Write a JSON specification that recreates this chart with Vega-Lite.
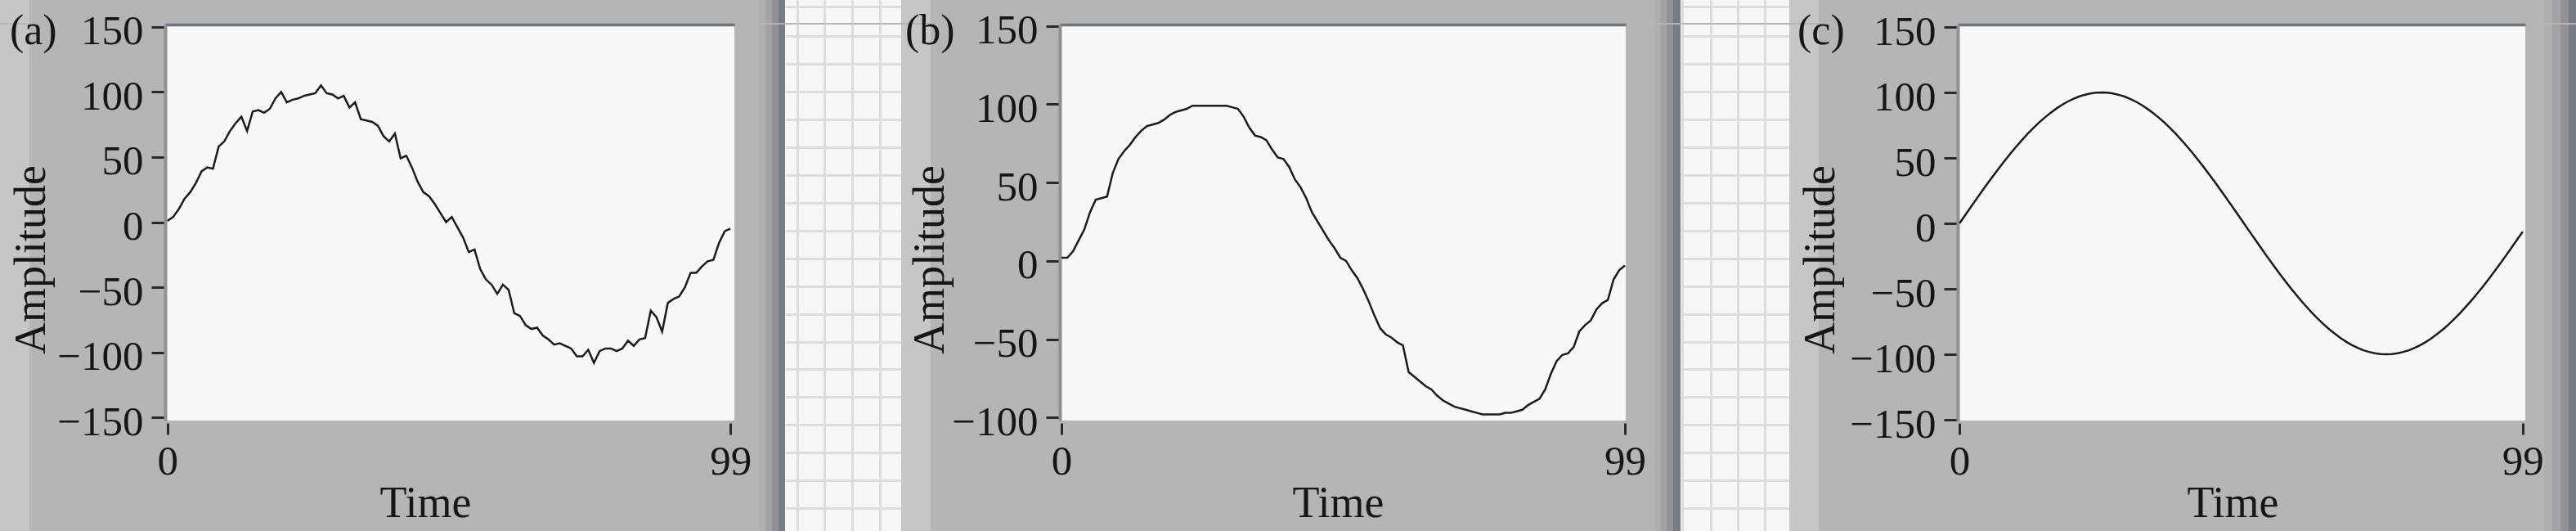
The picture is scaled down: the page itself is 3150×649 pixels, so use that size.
{
  "$schema": "https://vega.github.io/schema/vega-lite/v6.json",
  "padding": 0,
  "background": "#b5b5b5",
  "config": {"view": {"stroke": null}, "axis": {"labelFont": "Liberation Serif", "titleFont": "Liberation Serif"}},
  "datasets": {
    "a": [{"t":0,"v":1},{"t":1,"v":4},{"t":2,"v":10},{"t":3,"v":18},{"t":4,"v":23},{"t":5,"v":30},{"t":6,"v":39},{"t":7,"v":42},{"t":8,"v":41},{"t":9,"v":58},{"t":10,"v":62},{"t":11,"v":70},{"t":12,"v":76},{"t":13,"v":81},{"t":14,"v":70},{"t":15,"v":85},{"t":16,"v":86},{"t":17,"v":84},{"t":18,"v":87},{"t":19,"v":95},{"t":20,"v":100},{"t":21,"v":92},{"t":22,"v":94},{"t":23,"v":95},{"t":24,"v":97},{"t":25,"v":98},{"t":26,"v":99},{"t":27,"v":105},{"t":28,"v":99},{"t":29,"v":98},{"t":30,"v":95},{"t":31,"v":97},{"t":32,"v":88},{"t":33,"v":92},{"t":34,"v":79},{"t":35,"v":78},{"t":36,"v":77},{"t":37,"v":74},{"t":38,"v":66},{"t":39,"v":62},{"t":40,"v":68},{"t":41,"v":49},{"t":42,"v":51},{"t":43,"v":42},{"t":44,"v":31},{"t":45,"v":23},{"t":46,"v":20},{"t":47,"v":14},{"t":48,"v":7},{"t":49,"v":0},{"t":50,"v":4},{"t":51,"v":-4},{"t":52,"v":-12},{"t":53,"v":-23},{"t":54,"v":-21},{"t":55,"v":-36},{"t":56,"v":-44},{"t":57,"v":-48},{"t":58,"v":-55},{"t":59,"v":-48},{"t":60,"v":-52},{"t":61,"v":-70},{"t":62,"v":-72},{"t":63,"v":-79},{"t":64,"v":-82},{"t":65,"v":-81},{"t":66,"v":-87},{"t":67,"v":-90},{"t":68,"v":-94},{"t":69,"v":-93},{"t":70,"v":-95},{"t":71,"v":-97},{"t":72,"v":-103},{"t":73,"v":-103},{"t":74,"v":-98},{"t":75,"v":-108},{"t":76,"v":-99},{"t":77,"v":-97},{"t":78,"v":-97},{"t":79,"v":-99},{"t":80,"v":-97},{"t":81,"v":-91},{"t":82,"v":-95},{"t":83,"v":-90},{"t":84,"v":-89},{"t":85,"v":-68},{"t":86,"v":-73},{"t":87,"v":-84},{"t":88,"v":-62},{"t":89,"v":-59},{"t":90,"v":-57},{"t":91,"v":-50},{"t":92,"v":-39},{"t":93,"v":-39},{"t":94,"v":-34},{"t":95,"v":-30},{"t":96,"v":-29},{"t":97,"v":-16},{"t":98,"v":-7},{"t":99,"v":-5}],
    "b": [{"t":0,"v":2},{"t":1,"v":2},{"t":2,"v":6},{"t":3,"v":13},{"t":4,"v":20},{"t":5,"v":31},{"t":6,"v":39},{"t":7,"v":40},{"t":8,"v":41},{"t":9,"v":56},{"t":10,"v":65},{"t":11,"v":70},{"t":12,"v":74},{"t":13,"v":79},{"t":14,"v":83},{"t":15,"v":86},{"t":16,"v":87},{"t":17,"v":88},{"t":18,"v":90},{"t":19,"v":93},{"t":20,"v":95},{"t":21,"v":96},{"t":22,"v":97},{"t":23,"v":99},{"t":24,"v":99},{"t":25,"v":99},{"t":26,"v":99},{"t":27,"v":99},{"t":28,"v":99},{"t":29,"v":99},{"t":30,"v":98},{"t":31,"v":97},{"t":32,"v":92},{"t":33,"v":85},{"t":34,"v":80},{"t":35,"v":79},{"t":36,"v":77},{"t":37,"v":71},{"t":38,"v":66},{"t":39,"v":65},{"t":40,"v":60},{"t":41,"v":52},{"t":42,"v":47},{"t":43,"v":40},{"t":44,"v":31},{"t":45,"v":25},{"t":46,"v":19},{"t":47,"v":13},{"t":48,"v":8},{"t":49,"v":2},{"t":50,"v":0},{"t":51,"v":-6},{"t":52,"v":-11},{"t":53,"v":-18},{"t":54,"v":-26},{"t":55,"v":-35},{"t":56,"v":-43},{"t":57,"v":-47},{"t":58,"v":-49},{"t":59,"v":-52},{"t":60,"v":-54},{"t":61,"v":-71},{"t":62,"v":-74},{"t":63,"v":-77},{"t":64,"v":-80},{"t":65,"v":-82},{"t":66,"v":-86},{"t":67,"v":-89},{"t":68,"v":-91},{"t":69,"v":-93},{"t":70,"v":-94},{"t":71,"v":-95},{"t":72,"v":-96},{"t":73,"v":-97},{"t":74,"v":-98},{"t":75,"v":-98},{"t":76,"v":-98},{"t":77,"v":-98},{"t":78,"v":-97},{"t":79,"v":-97},{"t":80,"v":-96},{"t":81,"v":-95},{"t":82,"v":-92},{"t":83,"v":-90},{"t":84,"v":-88},{"t":85,"v":-82},{"t":86,"v":-72},{"t":87,"v":-64},{"t":88,"v":-60},{"t":89,"v":-59},{"t":90,"v":-55},{"t":91,"v":-45},{"t":92,"v":-41},{"t":93,"v":-38},{"t":94,"v":-31},{"t":95,"v":-27},{"t":96,"v":-25},{"t":97,"v":-12},{"t":98,"v":-6},{"t":99,"v":-3}],
    "c": [{"t":0,"v":0},{"t":1,"v":6.3},{"t":2,"v":12.5},{"t":3,"v":18.7},{"t":4,"v":24.9},{"t":5,"v":30.9},{"t":6,"v":36.8},{"t":7,"v":42.6},{"t":8,"v":48.2},{"t":9,"v":53.6},{"t":10,"v":58.8},{"t":11,"v":63.7},{"t":12,"v":68.5},{"t":13,"v":72.9},{"t":14,"v":77.1},{"t":15,"v":80.9},{"t":16,"v":84.4},{"t":17,"v":87.6},{"t":18,"v":90.5},{"t":19,"v":93.0},{"t":20,"v":95.1},{"t":21,"v":96.9},{"t":22,"v":98.2},{"t":23,"v":99.2},{"t":24,"v":99.8},{"t":25,"v":100},{"t":26,"v":99.8},{"t":27,"v":99.2},{"t":28,"v":98.2},{"t":29,"v":96.9},{"t":30,"v":95.1},{"t":31,"v":93.0},{"t":32,"v":90.5},{"t":33,"v":87.6},{"t":34,"v":84.4},{"t":35,"v":80.9},{"t":36,"v":77.1},{"t":37,"v":72.9},{"t":38,"v":68.5},{"t":39,"v":63.7},{"t":40,"v":58.8},{"t":41,"v":53.6},{"t":42,"v":48.2},{"t":43,"v":42.6},{"t":44,"v":36.8},{"t":45,"v":30.9},{"t":46,"v":24.9},{"t":47,"v":18.7},{"t":48,"v":12.5},{"t":49,"v":6.3},{"t":50,"v":0},{"t":51,"v":-6.3},{"t":52,"v":-12.5},{"t":53,"v":-18.7},{"t":54,"v":-24.9},{"t":55,"v":-30.9},{"t":56,"v":-36.8},{"t":57,"v":-42.6},{"t":58,"v":-48.2},{"t":59,"v":-53.6},{"t":60,"v":-58.8},{"t":61,"v":-63.7},{"t":62,"v":-68.5},{"t":63,"v":-72.9},{"t":64,"v":-77.1},{"t":65,"v":-80.9},{"t":66,"v":-84.4},{"t":67,"v":-87.6},{"t":68,"v":-90.5},{"t":69,"v":-93.0},{"t":70,"v":-95.1},{"t":71,"v":-96.9},{"t":72,"v":-98.2},{"t":73,"v":-99.2},{"t":74,"v":-99.8},{"t":75,"v":-100},{"t":76,"v":-99.8},{"t":77,"v":-99.2},{"t":78,"v":-98.2},{"t":79,"v":-96.9},{"t":80,"v":-95.1},{"t":81,"v":-93.0},{"t":82,"v":-90.5},{"t":83,"v":-87.6},{"t":84,"v":-84.4},{"t":85,"v":-80.9},{"t":86,"v":-77.1},{"t":87,"v":-72.9},{"t":88,"v":-68.5},{"t":89,"v":-63.7},{"t":90,"v":-58.8},{"t":91,"v":-53.6},{"t":92,"v":-48.2},{"t":93,"v":-42.6},{"t":94,"v":-36.8},{"t":95,"v":-30.9},{"t":96,"v":-24.9},{"t":97,"v":-18.7},{"t":98,"v":-12.5},{"t":99,"v":-6.3}]
  },
  "spacing": -17,
  "bounds": "full",
  "vconcat": [
    {
      "spacing": 0, "bounds": "flush",
      "hconcat": [
        {"width": 36, "height": 28, "view": {"fill": "#c6c6c6"}, "data": {"values": []}, "mark": "point"},
        {"width": 892, "height": 28, "data": {"values": []}, "mark": "point"},
        {"width": 8, "height": 28, "view": {"fill": "#aeafb1"}, "data": {"values": []}, "mark": "point"},
        {"width": 8, "height": 28, "view": {"fill": "#a2a3a7"}, "data": {"values": []}, "mark": "point"},
        {"width": 8, "height": 28, "view": {"fill": "#909297"}, "data": {"values": []}, "mark": "point"},
        {"width": 8, "height": 28, "view": {"fill": "#767a81"}, "data": {"values": []}, "mark": "point"},
        {
          "width": 142, "height": 28, "view": {"fill": "#f7f7f7"}, "data": {"values": []}, "mark": "point",
          "encoding": {
            "x": {"field": "gx", "type": "quantitative", "scale": {"domain": [0, 142]}, "axis": {"orient": "bottom", "values": [15, 48, 82, 116], "grid": true, "gridColor": "#dddddd", "gridWidth": 3, "gridOpacity": 1, "domain": false, "ticks": false, "labels": false, "title": null}},
            "y": {"field": "gy", "type": "quantitative", "scale": {"domain": [0, 28], "reverse": true}, "axis": {"orient": "left", "values": [8], "grid": true, "gridColor": "#dddddd", "gridWidth": 3, "gridOpacity": 1, "domain": false, "ticks": false, "labels": false, "title": null}}
          }
        },
        {"width": 36, "height": 28, "view": {"fill": "#c6c6c6"}, "data": {"values": []}, "mark": "point"},
        {"width": 884, "height": 28, "data": {"values": []}, "mark": "point"},
        {"width": 8, "height": 28, "view": {"fill": "#aeafb1"}, "data": {"values": []}, "mark": "point"},
        {"width": 8, "height": 28, "view": {"fill": "#a2a3a7"}, "data": {"values": []}, "mark": "point"},
        {"width": 8, "height": 28, "view": {"fill": "#909297"}, "data": {"values": []}, "mark": "point"},
        {"width": 9, "height": 28, "view": {"fill": "#767a81"}, "data": {"values": []}, "mark": "point"},
        {
          "width": 133, "height": 28, "view": {"fill": "#f7f7f7"}, "data": {"values": []}, "mark": "point",
          "encoding": {
            "x": {"field": "gx", "type": "quantitative", "scale": {"domain": [0, 133]}, "axis": {"orient": "bottom", "values": [2, 37, 70, 103], "grid": true, "gridColor": "#dddddd", "gridWidth": 3, "gridOpacity": 1, "domain": false, "ticks": false, "labels": false, "title": null}},
            "y": {"field": "gy", "type": "quantitative", "scale": {"domain": [0, 28], "reverse": true}, "axis": {"orient": "left", "values": [8], "grid": true, "gridColor": "#dddddd", "gridWidth": 3, "gridOpacity": 1, "domain": false, "ticks": false, "labels": false, "title": null}}
          }
        },
        {"width": 36, "height": 28, "view": {"fill": "#c6c6c6"}, "data": {"values": []}, "mark": "point"},
        {"width": 887, "height": 28, "data": {"values": []}, "mark": "point"},
        {"width": 10, "height": 28, "view": {"fill": "#aeafb1"}, "data": {"values": []}, "mark": "point"},
        {"width": 10, "height": 28, "view": {"fill": "#a2a3a7"}, "data": {"values": []}, "mark": "point"},
        {"width": 10, "height": 28, "view": {"fill": "#909297"}, "data": {"values": []}, "mark": "point"},
        {"width": 9, "height": 28, "view": {"fill": "#767a81"}, "data": {"values": []}, "mark": "point"}
      ]
    },
    {
      "spacing": 0, "bounds": "flush",
      "hconcat": [
        {"width": 36, "height": 621, "view": {"fill": "#c6c6c6"}, "data": {"values": []}, "mark": "point"},
        {"width": 166, "height": 621, "data": {"values": []}, "mark": "point"},
        {
          "width": 696, "height": 484,
          "view": {"fill": "#f8f8f8"},
          "data": {"name": "a"},
          "resolve": {"axis": {"x": "independent", "y": "independent"}},
          "layer": [
            {
              "mark": {"type": "line", "color": "#1c1c1c", "strokeWidth": 2.5},
              "encoding": {
                "x": {"field": "t", "type": "quantitative", "scale": {"domain": [-0.4, 99.7], "nice": false, "zero": false},
                  "axis": {"orient": "bottom", "values": [0, 99], "offset": 3, "domain": false, "grid": false, "tickSize": 14, "tickWidth": 3, "tickColor": "#2a2a2a", "labelFontSize": 51, "labelColor": "#161616", "labelPadding": 8, "labelFlush": false, "labelOverlap": false, "title": "Time", "titleFontSize": 54, "titleFontWeight": "normal", "titleColor": "#161616", "titleX": 318, "titleY": 114, "titleBaseline": "alphabetic"}},
                "y": {"field": "v", "type": "quantitative", "scale": {"domain": [-152.3, 151.7], "nice": false, "zero": false},
                  "axis": {"orient": "left", "values": [-150, -100, -50, 0, 50, 100, 150], "domain": true, "domainColor": "#8e9095", "domainWidth": 4, "grid": false, "tickSize": 17, "tickWidth": 3, "tickColor": "#2a2a2a", "labelFontSize": 51, "labelColor": "#161616", "labelPadding": 10, "labelOffset": 6, "labelBaseline": "middle", "labelOverlap": false, "labelFlush": false, "title": "Amplitude", "titleFontSize": 54, "titleFontWeight": "normal", "titleColor": "#161616", "titleAngle": 270, "titleX": -148, "titleY": 287, "titleBaseline": "alphabetic"}}
              }
            },
            {
              "mark": {"type": "line", "opacity": 0},
              "encoding": {
                "x": {"field": "t", "type": "quantitative", "axis": {"orient": "top", "domain": true, "domainColor": "#70747c", "domainWidth": 3.5, "domainCap": "butt", "ticks": false, "labels": false, "grid": false, "title": null}},
                "y": {"field": "v", "type": "quantitative", "axis": null}
              }
            },
            {
              "data": {"values": [{"label": "(a)"}]},
              "mark": {"type": "text", "align": "left", "baseline": "alphabetic", "font": "Liberation Serif", "fontSize": 52, "color": "#161616"},
              "encoding": {
                "x": {"datum": -27.73, "type": "quantitative", "axis": null},
                "y": {"datum": 136.6, "type": "quantitative", "axis": null},
                "text": {"field": "label"}
              }
            }
          ]
        },
        {"width": 30, "height": 621, "data": {"values": []}, "mark": "point"},
        {"width": 8, "height": 621, "view": {"fill": "#aeafb1"}, "data": {"values": []}, "mark": "point"},
        {"width": 8, "height": 621, "view": {"fill": "#a2a3a7"}, "data": {"values": []}, "mark": "point"},
        {"width": 8, "height": 621, "view": {"fill": "#909297"}, "data": {"values": []}, "mark": "point"},
        {"width": 8, "height": 621, "view": {"fill": "#767a81"}, "data": {"values": []}, "mark": "point"},
        {
          "width": 142, "height": 621, "view": {"fill": "#f7f7f7"}, "data": {"values": []}, "mark": "point",
          "encoding": {
            "x": {"field": "gx", "type": "quantitative", "scale": {"domain": [0, 142]}, "axis": {"orient": "bottom", "values": [15, 48, 82, 116], "grid": true, "gridColor": "#dddddd", "gridWidth": 3, "gridOpacity": 1, "domain": false, "ticks": false, "labels": false, "title": null}},
            "y": {"field": "gy", "type": "quantitative", "scale": {"domain": [28, 649], "reverse": true}, "axis": {"orient": "left", "values": [42, 76, 110, 144, 178, 212, 246, 280, 314, 348, 382, 416, 449, 483, 517, 551, 585, 619], "grid": true, "gridColor": "#dddddd", "gridWidth": 3, "gridOpacity": 1, "domain": false, "ticks": false, "labels": false, "title": null}}
          }
        },
        {"width": 36, "height": 621, "view": {"fill": "#c6c6c6"}, "data": {"values": []}, "mark": "point"},
        {"width": 158, "height": 621, "data": {"values": []}, "mark": "point"},
        {
          "width": 692, "height": 484,
          "view": {"fill": "#f8f8f8"},
          "data": {"name": "b"},
          "resolve": {"axis": {"x": "independent", "y": "independent"}},
          "layer": [
            {
              "mark": {"type": "line", "color": "#1c1c1c", "strokeWidth": 2.5},
              "encoding": {
                "x": {"field": "t", "type": "quantitative", "scale": {"domain": [-0.3, 99.15], "nice": false, "zero": false},
                  "axis": {"orient": "bottom", "values": [0, 99], "offset": 3, "domain": false, "grid": false, "tickSize": 14, "tickWidth": 3, "tickColor": "#2a2a2a", "labelFontSize": 51, "labelColor": "#161616", "labelPadding": 8, "labelFlush": false, "labelOverlap": false, "title": "Time", "titleFontSize": 54, "titleFontWeight": "normal", "titleColor": "#161616", "titleX": 340, "titleY": 114, "titleBaseline": "alphabetic"}},
                "y": {"field": "v", "type": "quantitative", "scale": {"domain": [-101.9, 150.8], "nice": false, "zero": false},
                  "axis": {"orient": "left", "values": [-100, -50, 0, 50, 100, 150], "domain": true, "domainColor": "#8e9095", "domainWidth": 4, "grid": false, "tickSize": 17, "tickWidth": 3, "tickColor": "#2a2a2a", "labelFontSize": 51, "labelColor": "#161616", "labelPadding": 10, "labelOffset": 6, "labelBaseline": "middle", "labelOverlap": false, "labelFlush": false, "title": "Amplitude", "titleFontSize": 54, "titleFontWeight": "normal", "titleColor": "#161616", "titleAngle": 270, "titleX": -143, "titleY": 287, "titleBaseline": "alphabetic"}}
              }
            },
            {
              "mark": {"type": "line", "opacity": 0},
              "encoding": {
                "x": {"field": "t", "type": "quantitative", "axis": {"orient": "top", "domain": true, "domainColor": "#70747c", "domainWidth": 3.5, "domainCap": "butt", "ticks": false, "labels": false, "grid": false, "title": null}},
                "y": {"field": "v", "type": "quantitative", "axis": null}
              }
            },
            {
              "data": {"values": [{"label": "(b)"}]},
              "mark": {"type": "text", "align": "left", "baseline": "alphabetic", "font": "Liberation Serif", "fontSize": 52, "color": "#161616"},
              "encoding": {
                "x": {"datum": -27.46, "type": "quantitative", "axis": null},
                "y": {"datum": 138.27, "type": "quantitative", "axis": null},
                "text": {"field": "label"}
              }
            }
          ]
        },
        {"width": 34, "height": 621, "data": {"values": []}, "mark": "point"},
        {"width": 8, "height": 621, "view": {"fill": "#aeafb1"}, "data": {"values": []}, "mark": "point"},
        {"width": 8, "height": 621, "view": {"fill": "#a2a3a7"}, "data": {"values": []}, "mark": "point"},
        {"width": 8, "height": 621, "view": {"fill": "#909297"}, "data": {"values": []}, "mark": "point"},
        {"width": 9, "height": 621, "view": {"fill": "#767a81"}, "data": {"values": []}, "mark": "point"},
        {
          "width": 133, "height": 621, "view": {"fill": "#f7f7f7"}, "data": {"values": []}, "mark": "point",
          "encoding": {
            "x": {"field": "gx", "type": "quantitative", "scale": {"domain": [0, 133]}, "axis": {"orient": "bottom", "values": [2, 37, 70, 103], "grid": true, "gridColor": "#dddddd", "gridWidth": 3, "gridOpacity": 1, "domain": false, "ticks": false, "labels": false, "title": null}},
            "y": {"field": "gy", "type": "quantitative", "scale": {"domain": [28, 649], "reverse": true}, "axis": {"orient": "left", "values": [42, 76, 110, 144, 178, 212, 246, 280, 314, 348, 382, 416, 449, 483, 517, 551, 585, 619], "grid": true, "gridColor": "#dddddd", "gridWidth": 3, "gridOpacity": 1, "domain": false, "ticks": false, "labels": false, "title": null}}
          }
        },
        {"width": 36, "height": 621, "view": {"fill": "#c6c6c6"}, "data": {"values": []}, "mark": "point"},
        {"width": 170, "height": 621, "data": {"values": []}, "mark": "point"},
        {
          "width": 694, "height": 484,
          "view": {"fill": "#f8f8f8"},
          "data": {"name": "c"},
          "resolve": {"axis": {"x": "independent", "y": "independent"}},
          "layer": [
            {
              "mark": {"type": "line", "color": "#1c1c1c", "strokeWidth": 2.5},
              "encoding": {
                "x": {"field": "t", "type": "quantitative", "scale": {"domain": [-0.3, 99.45], "nice": false, "zero": false},
                  "axis": {"orient": "bottom", "values": [0, 99], "offset": 3, "domain": false, "grid": false, "tickSize": 14, "tickWidth": 3, "tickColor": "#2a2a2a", "labelFontSize": 51, "labelColor": "#161616", "labelPadding": 8, "labelFlush": false, "labelOverlap": false, "title": "Time", "titleFontSize": 54, "titleFontWeight": "normal", "titleColor": "#161616", "titleX": 336, "titleY": 114, "titleBaseline": "alphabetic"}},
                "y": {"field": "v", "type": "quantitative", "scale": {"domain": [-150.6, 151.9], "nice": false, "zero": false},
                  "axis": {"orient": "left", "values": [-150, -100, -50, 0, 50, 100, 150], "domain": true, "domainColor": "#8e9095", "domainWidth": 4, "grid": false, "tickSize": 17, "tickWidth": 3, "tickColor": "#2a2a2a", "labelFontSize": 51, "labelColor": "#161616", "labelPadding": 10, "labelOffset": 6, "labelBaseline": "middle", "labelOverlap": false, "labelFlush": false, "title": "Amplitude", "titleFontSize": 54, "titleFontWeight": "normal", "titleColor": "#161616", "titleAngle": 270, "titleX": -152, "titleY": 287, "titleBaseline": "alphabetic"}}
              }
            },
            {
              "mark": {"type": "line", "opacity": 0},
              "encoding": {
                "x": {"field": "t", "type": "quantitative", "axis": {"orient": "top", "domain": true, "domainColor": "#70747c", "domainWidth": 3.5, "domainCap": "butt", "ticks": false, "labels": false, "grid": false, "title": null}},
                "y": {"field": "v", "type": "quantitative", "axis": null}
              }
            },
            {
              "data": {"values": [{"label": "(c)"}]},
              "mark": {"type": "text", "align": "left", "baseline": "alphabetic", "font": "Liberation Serif", "fontSize": 52, "color": "#161616"},
              "encoding": {
                "x": {"datum": -28.47, "type": "quantitative", "axis": null},
                "y": {"datum": 136.9, "type": "quantitative", "axis": null},
                "text": {"field": "label"}
              }
            }
          ]
        },
        {"width": 23, "height": 621, "data": {"values": []}, "mark": "point"},
        {"width": 10, "height": 621, "view": {"fill": "#aeafb1"}, "data": {"values": []}, "mark": "point"},
        {"width": 10, "height": 621, "view": {"fill": "#a2a3a7"}, "data": {"values": []}, "mark": "point"},
        {"width": 10, "height": 621, "view": {"fill": "#909297"}, "data": {"values": []}, "mark": "point"},
        {"width": 9, "height": 621, "view": {"fill": "#767a81"}, "data": {"values": []}, "mark": "point"}
      ]
    }
  ]
}
